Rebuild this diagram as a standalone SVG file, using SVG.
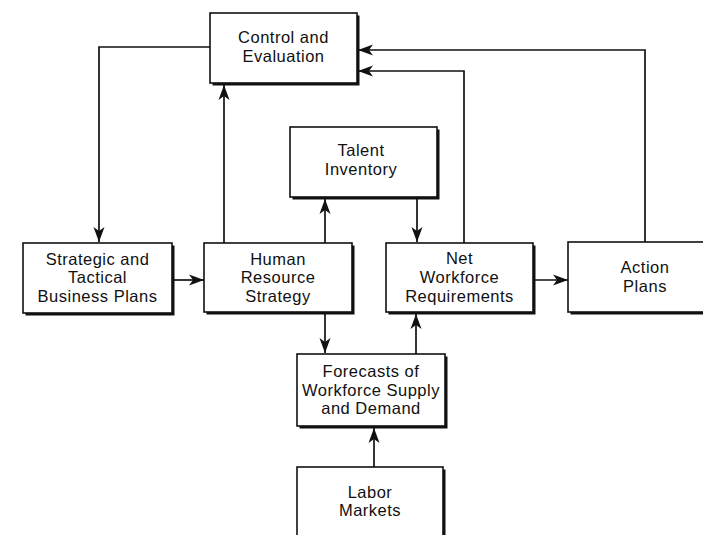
<svg xmlns="http://www.w3.org/2000/svg" width="703" height="535" viewBox="0 0 703 535">
<style>
.sh{fill:#111}
.bx{fill:#fff;stroke:#111;stroke-width:1.6}
.t{font-family:"Liberation Sans",Arial,sans-serif;font-size:16.5px;letter-spacing:0.5px;fill:#111;text-anchor:middle}
.c{fill:none;stroke:#111;stroke-width:1.7}
</style>
<defs>
<marker id="ah" markerUnits="userSpaceOnUse" markerWidth="16" markerHeight="12" refX="15" refY="6" orient="auto">
<path d="M0,0.5 L15,6 L0,11.5 L4,6 Z" fill="#111"/>
</marker>
</defs>
<rect width="703" height="535" fill="#fff"/>
<g id="connectors">
<polyline class="c" points="210,47 99,47 99,242" marker-end="url(#ah)"/>
<line class="c" x1="172" y1="280" x2="204" y2="280" marker-end="url(#ah)"/>
<line class="c" x1="224" y1="243" x2="224" y2="85" marker-end="url(#ah)"/>
<line class="c" x1="325" y1="243" x2="325" y2="199" marker-end="url(#ah)"/>
<line class="c" x1="417" y1="199" x2="417" y2="242" marker-end="url(#ah)"/>
<polyline class="c" points="464,243 464,71 358,71" marker-end="url(#ah)"/>
<polyline class="c" points="645,242 645,50 358,50" marker-end="url(#ah)"/>
<line class="c" x1="535" y1="280" x2="568" y2="280" marker-end="url(#ah)"/>
<line class="c" x1="325" y1="314" x2="325" y2="353" marker-end="url(#ah)"/>
<line class="c" x1="416" y1="354" x2="416" y2="314" marker-end="url(#ah)"/>
<line class="c" x1="374" y1="467" x2="374" y2="428" marker-end="url(#ah)"/>
</g>
<g id="control">
<rect class="sh" x="212.5" y="15.5" width="147" height="70"/>
<rect class="bx" x="210" y="13" width="147" height="70"/>
<text class="t" x="283.5" y="43">Control and</text>
<text class="t" x="283.5" y="62">Evaluation</text>
</g>
<g id="talent">
<rect class="sh" x="292.5" y="129.5" width="147" height="70"/>
<rect class="bx" x="290" y="127" width="147" height="70"/>
<text class="t" x="361" y="156">Talent</text>
<text class="t" x="361" y="175">Inventory</text>
</g>
<g id="strategic">
<rect class="sh" x="25.5" y="245.5" width="149" height="70"/>
<rect class="bx" x="23" y="243" width="149" height="70"/>
<text class="t" x="97.5" y="265">Strategic and</text>
<text class="t" x="97.5" y="283">Tactical</text>
<text class="t" x="97.5" y="302">Business Plans</text>
</g>
<g id="hr">
<rect class="sh" x="206.5" y="245.5" width="148" height="69"/>
<rect class="bx" x="204" y="243" width="148" height="69"/>
<text class="t" x="278" y="265">Human</text>
<text class="t" x="278" y="283">Resource</text>
<text class="t" x="278" y="302">Strategy</text>
</g>
<g id="net">
<rect class="sh" x="388.5" y="245.5" width="147" height="69"/>
<rect class="bx" x="386" y="243" width="147" height="69"/>
<text class="t" x="459.5" y="264">Net</text>
<text class="t" x="459.5" y="283">Workforce</text>
<text class="t" x="459.5" y="302">Requirements</text>
</g>
<g id="action">
<rect class="sh" x="570.5" y="244.5" width="160" height="70"/>
<rect class="bx" x="568" y="242" width="160" height="70"/>
<text class="t" x="645" y="273">Action</text>
<text class="t" x="645" y="292">Plans</text>
</g>
<g id="forecasts">
<rect class="sh" x="299.5" y="356.5" width="148" height="72"/>
<rect class="bx" x="297" y="354" width="148" height="72"/>
<text class="t" x="371" y="377">Forecasts of</text>
<text class="t" x="371" y="396">Workforce Supply</text>
<text class="t" x="371" y="414">and Demand</text>
</g>
<g id="labor">
<rect class="sh" x="299.5" y="469.5" width="146" height="80"/>
<rect class="bx" x="297" y="467" width="146" height="80"/>
<text class="t" x="370" y="498">Labor</text>
<text class="t" x="370" y="516">Markets</text>
</g>
</svg>
